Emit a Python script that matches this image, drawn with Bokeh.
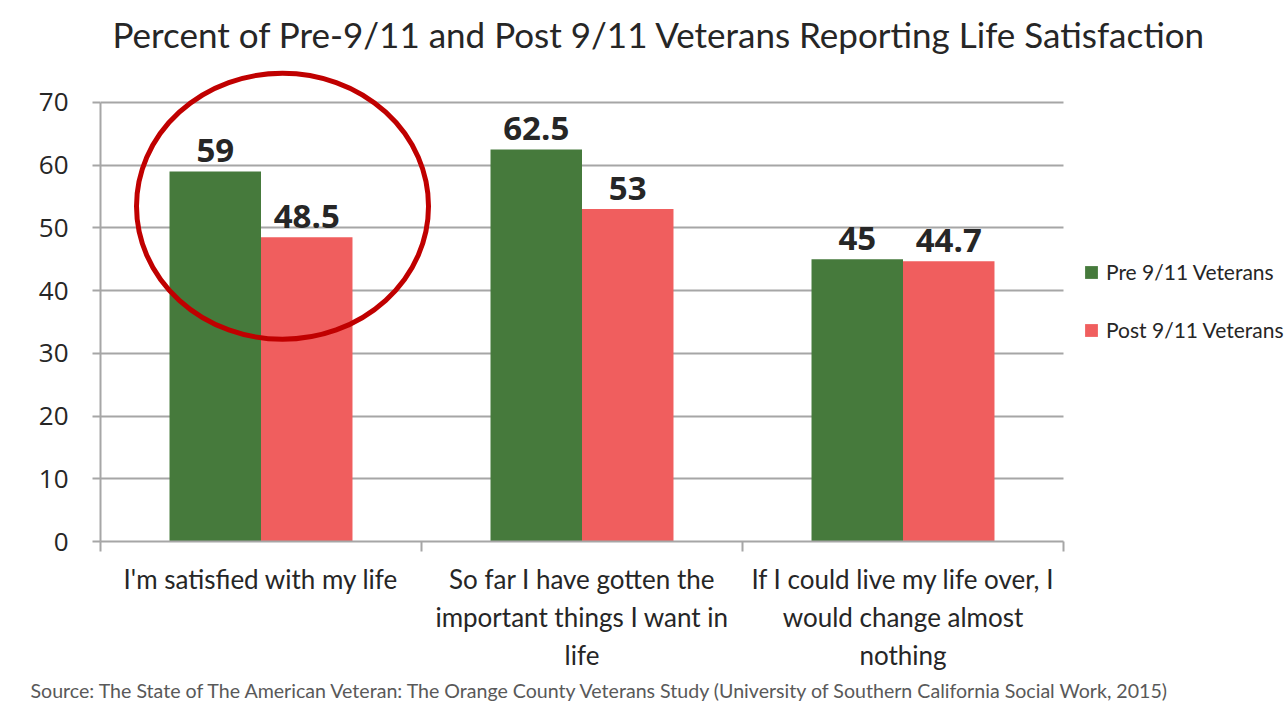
import numpy as np
from bokeh.plotting import figure
from bokeh.models import Range1d, FixedTicker, Title, Legend, LegendItem
from bokeh.core.properties import value
from bokeh.embed import file_html
from bokeh.resources import INLINE

# ---- data ----
categories = [
    "I'm satisfied with my life",
    "So far I have gotten the\nimportant things I want in\nlife",
    "If I could live my life over, I\nwould change almost\nnothing",
]
pre_values = [59, 62.5, 45]
post_values = [48.5, 53, 44.7]
series_names = ["Pre 9/11 Veterans", "Post 9/11 Veterans"]
y_ticks = [0, 10, 20, 30, 40, 50, 60, 70]
title_text = "Percent of Pre-9/11 and Post 9/11 Veterans Reporting Life Satisfaction"
source_text = ("Source: The State of The American Veteran: The Orange County Veterans Study "
               "(University of Southern California Social Work, 2015)")

GREEN = "#467a3c"
RED = "#f05e5e"
GRID = "#a6a6a6"
TXT = "#262626"

n = len(categories)
W, H = 1287, 719
LEFT, TOP, BOTTOM = 100, 63, 178
cat_px = 321.0                      # pixel width of one category slot
frame_w = W - LEFT
x_end = frame_w / cat_px            # frame extends under the legend area

p = figure(width=W, height=H, output_backend="svg", toolbar_location=None,
           x_range=Range1d(0, x_end), y_range=Range1d(0, 76.05),
           min_border_left=LEFT, min_border_right=0, min_border_top=TOP,
           min_border_bottom=BOTTOM)
p.background_fill_color = "white"
p.border_fill_color = "white"
p.outline_line_color = None

centers = np.arange(n) + 0.5
bw = 0.285
x_pre = centers - bw / 2
x_post = centers + bw / 2

r_pre = p.vbar(x=x_pre, top=pre_values, width=bw, fill_color=GREEN, line_color=None)
r_post = p.vbar(x=x_post, top=post_values, width=bw, fill_color=RED, line_color=None)

# value labels
for xs, vals in ((x_pre, pre_values), (x_post, post_values)):
    p.text(x=xs, y=vals, text=[f"{v:g}" for v in vals], y_offset=-9,
           text_align="center", text_baseline="bottom",
           text_font=value("Open Sans"), text_font_style="bold",
           text_font_size="33px", text_color=TXT)

# highlight ellipse
p.ellipse(x=0.567, y=53.45, width=292, height=266, width_units="screen",
          height_units="screen", fill_color=None, line_color="#c00000", line_width=5)

# axes
xa = p.xaxis[0]
xa.bounds = (0, n)
xa.ticker = FixedTicker(ticks=list(centers), minor_ticks=list(range(n + 1)))
xa.major_label_overrides = {float(c): lab for c, lab in zip(centers, categories)}
xa.major_tick_line_color = None
xa.minor_tick_in = 0
xa.minor_tick_out = 10
xa.minor_tick_line_color = GRID
xa.minor_tick_line_width = 2
xa.axis_line_color = GRID
xa.axis_line_width = 2
xa.major_label_text_font = "Lato"
xa.major_label_text_font_size = "26px"
xa.major_label_text_color = TXT
xa.major_label_text_line_height = 1.19
xa.major_label_standoff = 11

ya = p.yaxis[0]
ya.ticker = FixedTicker(ticks=y_ticks, minor_ticks=[])
ya.bounds = (0, 70)
ya.axis_line_color = GRID
ya.axis_line_width = 2
ya.major_tick_in = 0
ya.major_tick_out = 8
ya.major_tick_line_color = GRID
ya.major_tick_line_width = 2
ya.minor_tick_line_color = None
ya.major_label_text_font = "Open Sans"
ya.major_label_text_font_size = "26px"
ya.major_label_text_color = TXT
ya.major_label_standoff = 24

p.xgrid.grid_line_color = None
p.ygrid.grid_line_color = GRID
p.ygrid.grid_line_width = 2
p.ygrid.cross_bounds = (0, n)

# title & source
p.title.text = title_text
p.title.align = "left"
p.title.offset = 12
p.title.text_font = "Lato"
p.title.text_font_size = "35px"
p.title.text_font_style = "normal"
p.title.text_color = TXT
p.title.standoff = 20

p.add_layout(Title(text=source_text, align="left", offset=-70, text_font="Lato",
                   text_font_size="19.6px", text_font_style="normal",
                   text_color="#595959", standoff=6), "below")

legend = Legend(items=[LegendItem(label=series_names[0], renderers=[r_pre]),
                       LegendItem(label=series_names[1], renderers=[r_post])],
                location=(983, 199), padding=0, margin=0, spacing=33,
                glyph_width=16, glyph_height=16, label_height=16, label_standoff=7,
                label_text_font="Lato", label_text_font_size="21px",
                label_text_color=TXT, label_text_baseline="middle",
                border_line_color=None, background_fill_alpha=0)
p.add_layout(legend)

open("out.html", "w").write(file_html(p, INLINE))
